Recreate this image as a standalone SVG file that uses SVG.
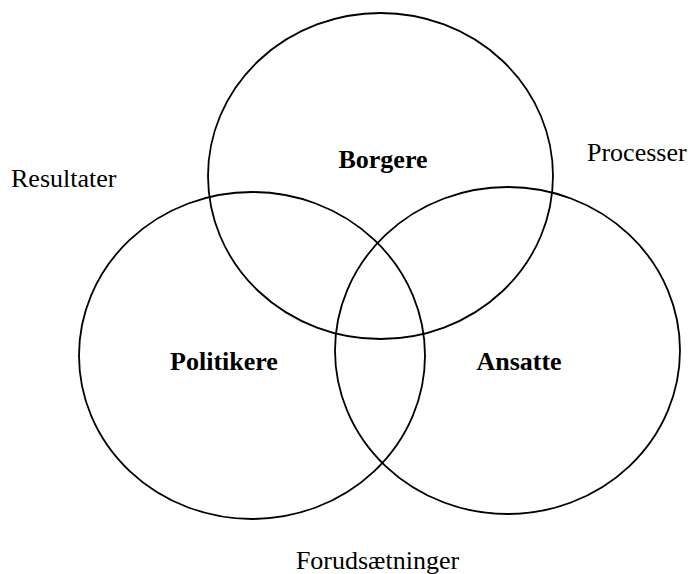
<svg xmlns="http://www.w3.org/2000/svg" width="690" height="574" viewBox="0 0 690 574">
<style>
.c{fill:none;stroke:#000;stroke-width:1.8}
.t{font-family:"Liberation Serif","Times New Roman",serif;font-size:26px;fill:#000}
.b{font-weight:bold;text-anchor:middle}
</style>
<rect width="690" height="574" fill="#fff"/>
<g id="borgere">
<ellipse class="c" cx="380.5" cy="176" rx="172.5" ry="163"/>
<text class="t b" x="383" y="168">Borgere</text>
</g>
<g id="politikere">
<ellipse class="c" cx="252" cy="355.5" rx="173" ry="163.5"/>
<text class="t b" x="224" y="370">Politikere</text>
</g>
<g id="ansatte">
<ellipse class="c" cx="507.5" cy="350.5" rx="172.5" ry="163.5"/>
<text class="t b" x="519" y="370">Ansatte</text>
</g>
<g id="labels">
<text class="t" x="11" y="187">Resultater</text>
<text class="t" x="587" y="161">Processer</text>
<text class="t" x="377.5" y="569" text-anchor="middle">Forudsætninger</text>
</g>
<g id="connectors"/>
</svg>
